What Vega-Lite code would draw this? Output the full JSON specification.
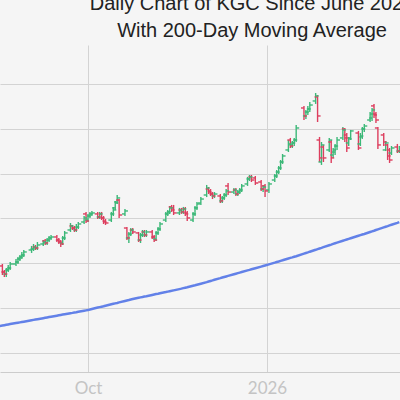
{
"$schema": "https://vega.github.io/schema/vega-lite/v6.json",
"autosize": {"type": "none"},
"width": 400,
"height": 327,
"padding": {"top": 45, "left": 0, "right": 0, "bottom": 28},
"background": "#f5f5f5",
"config": {"view": {"stroke": null}},
"title": {"text": "Daily Chart of KGC Since June 2025", "subtitle": "With 200-Day Moving Average", "anchor": "middle", "frame": "group", "dx": 52, "offset": 4, "font": "Liberation Sans", "subtitleFont": "Liberation Sans", "fontSize": 20, "subtitleFontSize": 20, "fontWeight": "normal", "color": "#222222", "subtitleColor": "#222222", "subtitlePadding": 7},
"data": {"values": [
{"date":"2025-08-15","o":19.47,"h":19.92,"l":19.25,"c":19.70,"ma":12.94},
{"date":"2025-08-18","o":19.70,"h":19.92,"l":18.69,"c":19.03,"ma":13.06},
{"date":"2025-08-19","o":19.03,"h":19.25,"l":18.47,"c":18.80,"ma":13.10},
{"date":"2025-08-20","o":18.80,"h":19.47,"l":18.47,"c":19.25,"ma":13.14},
{"date":"2025-08-21","o":19.25,"h":19.81,"l":19.03,"c":19.47,"ma":13.18},
{"date":"2025-08-22","o":19.47,"h":20.14,"l":19.25,"c":19.92,"ma":13.22},
{"date":"2025-08-25","o":19.92,"h":20.48,"l":19.70,"c":20.14,"ma":13.33},
{"date":"2025-08-26","o":20.14,"h":20.70,"l":19.92,"c":20.48,"ma":13.37},
{"date":"2025-08-27","o":20.48,"h":20.92,"l":20.25,"c":20.70,"ma":13.41},
{"date":"2025-08-28","o":20.70,"h":21.26,"l":20.48,"c":20.92,"ma":13.45},
{"date":"2025-08-29","o":20.92,"h":21.48,"l":20.70,"c":21.26,"ma":13.49},
{"date":"2025-09-02","o":21.48,"h":21.93,"l":21.15,"c":21.59,"ma":13.65},
{"date":"2025-09-03","o":21.59,"h":22.15,"l":21.37,"c":21.81,"ma":13.69},
{"date":"2025-09-04","o":21.81,"h":22.04,"l":21.48,"c":21.70,"ma":13.73},
{"date":"2025-09-05","o":21.70,"h":22.37,"l":21.48,"c":22.04,"ma":13.77},
{"date":"2025-09-08","o":22.15,"h":22.59,"l":21.93,"c":22.37,"ma":13.88},
{"date":"2025-09-09","o":22.48,"h":22.71,"l":22.04,"c":22.26,"ma":13.92},
{"date":"2025-09-10","o":22.26,"h":22.82,"l":22.04,"c":22.59,"ma":13.96},
{"date":"2025-09-11","o":22.59,"h":23.04,"l":22.37,"c":22.82,"ma":14.00},
{"date":"2025-09-12","o":22.82,"h":23.15,"l":22.59,"c":22.93,"ma":14.04},
{"date":"2025-09-15","o":22.93,"h":23.15,"l":22.37,"c":22.59,"ma":14.16},
{"date":"2025-09-16","o":22.59,"h":22.82,"l":22.15,"c":22.37,"ma":14.20},
{"date":"2025-09-17","o":22.37,"h":22.59,"l":21.81,"c":22.15,"ma":14.24},
{"date":"2025-09-18","o":22.26,"h":23.04,"l":22.04,"c":22.82,"ma":14.28},
{"date":"2025-09-19","o":22.82,"h":23.60,"l":22.59,"c":23.38,"ma":14.32},
{"date":"2025-09-22","o":23.71,"h":24.49,"l":23.49,"c":24.16,"ma":14.44},
{"date":"2025-09-23","o":24.16,"h":24.27,"l":23.71,"c":23.93,"ma":14.47},
{"date":"2025-09-24","o":23.93,"h":24.16,"l":23.49,"c":23.71,"ma":14.52},
{"date":"2025-09-25","o":23.71,"h":24.38,"l":23.49,"c":24.04,"ma":14.55},
{"date":"2025-09-26","o":24.04,"h":24.60,"l":23.82,"c":24.38,"ma":14.59},
{"date":"2025-09-29","o":24.60,"h":25.27,"l":24.38,"c":25.05,"ma":14.71},
{"date":"2025-09-30","o":25.50,"h":25.72,"l":24.49,"c":24.71,"ma":14.75},
{"date":"2025-10-01","o":24.82,"h":25.50,"l":24.60,"c":25.27,"ma":14.79},
{"date":"2025-10-02","o":25.27,"h":25.72,"l":25.05,"c":25.50,"ma":14.84},
{"date":"2025-10-03","o":25.50,"h":25.83,"l":25.27,"c":25.61,"ma":14.90},
{"date":"2025-10-06","o":25.50,"h":25.72,"l":24.94,"c":25.16,"ma":15.06},
{"date":"2025-10-07","o":25.16,"h":25.72,"l":24.94,"c":25.50,"ma":15.11},
{"date":"2025-10-08","o":25.50,"h":25.72,"l":24.82,"c":25.05,"ma":15.16},
{"date":"2025-10-09","o":25.05,"h":25.27,"l":24.38,"c":24.60,"ma":15.21},
{"date":"2025-10-10","o":24.71,"h":24.94,"l":24.27,"c":24.49,"ma":15.27},
{"date":"2025-10-13","o":24.82,"h":25.72,"l":24.60,"c":25.50,"ma":15.43},
{"date":"2025-10-14","o":25.50,"h":26.28,"l":25.27,"c":25.94,"ma":15.48},
{"date":"2025-10-15","o":26.17,"h":26.95,"l":25.94,"c":26.72,"ma":15.53},
{"date":"2025-10-16","o":26.83,"h":27.61,"l":26.61,"c":27.28,"ma":15.58},
{"date":"2025-10-17","o":27.05,"h":27.17,"l":25.05,"c":25.38,"ma":15.64},
{"date":"2025-10-20","o":25.50,"h":26.06,"l":25.27,"c":25.83,"ma":15.80},
{"date":"2025-10-21","o":23.93,"h":24.04,"l":22.59,"c":22.82,"ma":15.85},
{"date":"2025-10-22","o":22.82,"h":23.49,"l":22.26,"c":23.26,"ma":15.90},
{"date":"2025-10-23","o":23.26,"h":23.93,"l":23.04,"c":23.71,"ma":15.96},
{"date":"2025-10-24","o":23.71,"h":23.93,"l":23.26,"c":23.49,"ma":16.01},
{"date":"2025-10-27","o":23.38,"h":23.49,"l":22.37,"c":22.59,"ma":16.15},
{"date":"2025-10-28","o":22.59,"h":23.38,"l":22.26,"c":23.15,"ma":16.20},
{"date":"2025-10-29","o":23.15,"h":23.71,"l":22.93,"c":23.49,"ma":16.24},
{"date":"2025-10-30","o":23.49,"h":23.71,"l":22.93,"c":23.15,"ma":16.29},
{"date":"2025-10-31","o":23.15,"h":23.71,"l":22.93,"c":23.49,"ma":16.33},
{"date":"2025-11-03","o":23.49,"h":23.71,"l":22.71,"c":22.93,"ma":16.47},
{"date":"2025-11-04","o":22.93,"h":23.15,"l":22.37,"c":22.59,"ma":16.52},
{"date":"2025-11-05","o":22.71,"h":23.60,"l":22.48,"c":23.38,"ma":16.57},
{"date":"2025-11-06","o":23.38,"h":24.04,"l":23.15,"c":23.82,"ma":16.61},
{"date":"2025-11-07","o":23.82,"h":24.60,"l":23.60,"c":24.38,"ma":16.66},
{"date":"2025-11-10","o":24.82,"h":25.72,"l":24.60,"c":25.50,"ma":16.79},
{"date":"2025-11-11","o":25.50,"h":25.94,"l":25.27,"c":25.72,"ma":16.84},
{"date":"2025-11-12","o":25.72,"h":26.39,"l":25.50,"c":26.17,"ma":16.89},
{"date":"2025-11-13","o":26.28,"h":26.50,"l":25.72,"c":25.94,"ma":16.93},
{"date":"2025-11-14","o":26.17,"h":26.50,"l":25.38,"c":25.61,"ma":16.98},
{"date":"2025-11-17","o":25.61,"h":26.17,"l":25.38,"c":25.94,"ma":17.12},
{"date":"2025-11-18","o":25.94,"h":26.17,"l":25.50,"c":25.72,"ma":17.17},
{"date":"2025-11-19","o":25.72,"h":26.28,"l":25.50,"c":26.06,"ma":17.23},
{"date":"2025-11-20","o":26.06,"h":26.28,"l":25.27,"c":25.50,"ma":17.28},
{"date":"2025-11-21","o":25.61,"h":25.83,"l":24.71,"c":25.05,"ma":17.33},
{"date":"2025-11-24","o":24.82,"h":25.72,"l":24.60,"c":25.50,"ma":17.50},
{"date":"2025-11-25","o":25.50,"h":26.39,"l":25.27,"c":26.17,"ma":17.55},
{"date":"2025-11-26","o":26.17,"h":26.84,"l":25.94,"c":26.61,"ma":17.61},
{"date":"2025-11-28","o":26.72,"h":27.38,"l":26.50,"c":27.16,"ma":17.72},
{"date":"2025-12-01","o":27.61,"h":28.73,"l":27.38,"c":28.39,"ma":17.90},
{"date":"2025-12-02","o":28.28,"h":28.50,"l":27.72,"c":27.94,"ma":17.97},
{"date":"2025-12-03","o":28.06,"h":28.28,"l":27.50,"c":27.72,"ma":18.03},
{"date":"2025-12-04","o":27.72,"h":27.94,"l":27.16,"c":27.50,"ma":18.09},
{"date":"2025-12-05","o":27.50,"h":27.94,"l":27.27,"c":27.72,"ma":18.16},
{"date":"2025-12-08","o":27.50,"h":27.72,"l":26.72,"c":26.95,"ma":18.34},
{"date":"2025-12-09","o":26.95,"h":27.50,"l":26.72,"c":27.28,"ma":18.41},
{"date":"2025-12-10","o":27.28,"h":27.83,"l":27.05,"c":27.61,"ma":18.47},
{"date":"2025-12-11","o":27.61,"h":28.28,"l":27.38,"c":28.06,"ma":18.53},
{"date":"2025-12-12","o":28.62,"h":28.95,"l":27.61,"c":27.94,"ma":18.59},
{"date":"2025-12-15","o":27.94,"h":28.39,"l":27.72,"c":28.17,"ma":18.78},
{"date":"2025-12-16","o":28.17,"h":28.39,"l":27.50,"c":27.72,"ma":18.84},
{"date":"2025-12-17","o":27.72,"h":28.17,"l":27.50,"c":27.94,"ma":18.90},
{"date":"2025-12-18","o":27.94,"h":28.39,"l":27.72,"c":28.17,"ma":18.96},
{"date":"2025-12-19","o":28.17,"h":28.84,"l":27.94,"c":28.62,"ma":19.02},
{"date":"2025-12-22","o":28.84,"h":29.63,"l":28.62,"c":29.40,"ma":19.21},
{"date":"2025-12-23","o":29.40,"h":29.84,"l":29.17,"c":29.63,"ma":19.26},
{"date":"2025-12-24","o":29.63,"h":29.84,"l":29.06,"c":29.28,"ma":19.33},
{"date":"2025-12-26","o":29.51,"h":29.73,"l":28.73,"c":28.95,"ma":19.45},
{"date":"2025-12-29","o":29.06,"h":29.28,"l":28.06,"c":28.28,"ma":19.63},
{"date":"2025-12-30","o":28.28,"h":28.73,"l":27.94,"c":28.50,"ma":19.69},
{"date":"2025-12-31","o":28.62,"h":28.84,"l":27.38,"c":28.06,"ma":19.75},
{"date":"2026-01-02","o":28.17,"h":29.06,"l":27.83,"c":28.84,"ma":19.88},
{"date":"2026-01-05","o":29.28,"h":29.95,"l":29.06,"c":29.73,"ma":20.07},
{"date":"2026-01-06","o":29.73,"h":30.40,"l":29.51,"c":30.17,"ma":20.14},
{"date":"2026-01-07","o":30.17,"h":30.84,"l":29.95,"c":30.62,"ma":20.20},
{"date":"2026-01-08","o":30.62,"h":31.51,"l":30.40,"c":31.29,"ma":20.27},
{"date":"2026-01-09","o":31.29,"h":32.18,"l":31.07,"c":31.96,"ma":20.33},
{"date":"2026-01-12","o":32.63,"h":33.74,"l":32.40,"c":33.30,"ma":20.53},
{"date":"2026-01-13","o":33.74,"h":33.97,"l":32.85,"c":33.07,"ma":20.60},
{"date":"2026-01-14","o":33.19,"h":33.63,"l":32.85,"c":33.41,"ma":20.66},
{"date":"2026-01-15","o":33.41,"h":33.97,"l":33.07,"c":33.74,"ma":20.73},
{"date":"2026-01-16","o":33.74,"h":35.42,"l":33.52,"c":35.08,"ma":20.79},
{"date":"2026-01-20","o":37.31,"h":37.54,"l":35.97,"c":36.42,"ma":21.07},
{"date":"2026-01-21","o":36.42,"h":37.09,"l":36.08,"c":36.86,"ma":21.14},
{"date":"2026-01-22","o":36.86,"h":37.54,"l":36.53,"c":37.20,"ma":21.21},
{"date":"2026-01-23","o":37.20,"h":37.98,"l":36.86,"c":37.64,"ma":21.29},
{"date":"2026-01-26","o":38.09,"h":38.98,"l":37.76,"c":38.65,"ma":21.50},
{"date":"2026-01-27","o":38.54,"h":38.76,"l":35.75,"c":36.42,"ma":21.58},
{"date":"2026-01-28","o":33.74,"h":34.08,"l":31.29,"c":31.74,"ma":21.65},
{"date":"2026-01-29","o":31.29,"h":33.52,"l":30.96,"c":33.19,"ma":21.72},
{"date":"2026-01-30","o":32.96,"h":33.19,"l":31.29,"c":31.74,"ma":21.80},
{"date":"2026-02-02","o":32.63,"h":33.97,"l":32.40,"c":33.74,"ma":22.01},
{"date":"2026-02-03","o":33.52,"h":33.74,"l":31.18,"c":31.74,"ma":22.08},
{"date":"2026-02-04","o":32.07,"h":32.85,"l":31.74,"c":32.63,"ma":22.16},
{"date":"2026-02-05","o":32.40,"h":33.30,"l":32.07,"c":33.07,"ma":22.23},
{"date":"2026-02-06","o":33.07,"h":34.08,"l":32.63,"c":33.74,"ma":22.30},
{"date":"2026-02-09","o":33.97,"h":35.19,"l":33.74,"c":34.86,"ma":22.51},
{"date":"2026-02-10","o":34.97,"h":35.08,"l":33.52,"c":33.97,"ma":22.58},
{"date":"2026-02-11","o":34.30,"h":34.52,"l":32.40,"c":32.85,"ma":22.65},
{"date":"2026-02-12","o":33.41,"h":34.08,"l":33.07,"c":33.86,"ma":22.72},
{"date":"2026-02-13","o":33.97,"h":34.86,"l":33.74,"c":34.75,"ma":22.79},
{"date":"2026-02-17","o":34.52,"h":34.75,"l":32.63,"c":32.85,"ma":23.07},
{"date":"2026-02-18","o":33.30,"h":34.52,"l":33.07,"c":34.19,"ma":23.14},
{"date":"2026-02-19","o":34.08,"h":35.19,"l":33.86,"c":34.97,"ma":23.21},
{"date":"2026-02-20","o":34.97,"h":35.53,"l":34.64,"c":35.30,"ma":23.27},
{"date":"2026-02-23","o":35.97,"h":36.86,"l":35.75,"c":36.64,"ma":23.49},
{"date":"2026-02-24","o":36.19,"h":37.31,"l":35.86,"c":37.09,"ma":23.56},
{"date":"2026-02-25","o":37.54,"h":37.76,"l":36.19,"c":36.53,"ma":23.63},
{"date":"2026-02-26","o":36.64,"h":36.86,"l":35.64,"c":35.97,"ma":23.71},
{"date":"2026-02-27","o":35.08,"h":35.19,"l":32.74,"c":33.19,"ma":23.78},
{"date":"2026-03-02","o":34.30,"h":34.52,"l":33.07,"c":33.52,"ma":24.00},
{"date":"2026-03-03","o":32.63,"h":33.63,"l":32.51,"c":33.41,"ma":24.07},
{"date":"2026-03-04","o":33.19,"h":33.30,"l":31.51,"c":31.96,"ma":24.14},
{"date":"2026-03-05","o":32.63,"h":32.85,"l":31.18,"c":31.51,"ma":24.22},
{"date":"2026-03-06","o":32.29,"h":33.07,"l":32.07,"c":32.85,"ma":24.29},
{"date":"2026-03-09","o":32.96,"h":33.30,"l":32.29,"c":32.51,"ma":24.50},
{"date":"2026-03-10","o":32.51,"h":33.07,"l":32.29,"c":32.85,"ma":24.58}
]},
"encoding": {
  "x": {"field": "date", "type": "temporal", "title": null,
    "scale": {"type": "utc", "domain": [{"year": 2025, "month": 8, "date": 16, "hours": 18, "minutes": 30, "utc": true}, {"year": 2026, "month": 3, "date": 10, "hours": 8, "minutes": 40, "utc": true}]},
    "axis": {"values": [{"year": 2025, "month": 10, "date": 1, "utc": true}, {"year": 2026, "month": 1, "date": 1, "utc": true}],
      "labelExpr": "utcFormat(datum.value, '%m') == '01' ? utcFormat(datum.value, '%Y') : utcFormat(datum.value, '%b')",
      "ticks": false, "grid": true, "gridColor": "#d3d3d3", "gridWidth": 1, "domainColor": "#cccccc", "domainWidth": 1,
      "labelFont": "Lato", "labelFontSize": 17, "labelColor": "#c4c4c4", "labelPadding": 8}}
},
"layer": [
  {"mark": {"type": "rule", "strokeWidth": 1.4, "clip": true},
   "encoding": {
     "y": {"field": "l", "type": "quantitative", "title": null, "scale": {"domain": [7.88, 44.33], "nice": false, "zero": false},
       "axis": {"values": [10, 15, 20, 25, 30, 35, 40], "labels": false, "ticks": false, "domain": false, "grid": true, "gridColor": "#d3d3d3", "gridWidth": 1}},
     "y2": {"field": "h"},
     "color": {"condition": {"test": "datum.c >= datum.o", "value": "#3cb878"}, "value": "#dd3e5e"}}},
  {"mark": {"type": "tick", "orient": "horizontal", "size": 3, "thickness": 1.4, "xOffset": -1.5, "opacity": 1, "clip": true},
   "encoding": {
     "y": {"field": "o", "type": "quantitative", "title": null, "scale": {"domain": [7.88, 44.33], "nice": false, "zero": false},
       "axis": {"values": [10, 15, 20, 25, 30, 35, 40], "labels": false, "ticks": false, "domain": false, "grid": true, "gridColor": "#d3d3d3", "gridWidth": 1}},
     "color": {"condition": {"test": "datum.c >= datum.o", "value": "#3cb878"}, "value": "#dd3e5e"}}},
  {"mark": {"type": "tick", "orient": "horizontal", "size": 3, "thickness": 1.4, "xOffset": 1.5, "opacity": 1, "clip": true},
   "encoding": {
     "y": {"field": "c", "type": "quantitative", "title": null, "scale": {"domain": [7.88, 44.33], "nice": false, "zero": false},
       "axis": {"values": [10, 15, 20, 25, 30, 35, 40], "labels": false, "ticks": false, "domain": false, "grid": true, "gridColor": "#d3d3d3", "gridWidth": 1}},
     "color": {"condition": {"test": "datum.c >= datum.o", "value": "#3cb878"}, "value": "#dd3e5e"}}},
  {"mark": {"type": "line", "color": "#6281e8", "strokeWidth": 2.5, "clip": true},
   "encoding": {
     "y": {"field": "ma", "type": "quantitative", "title": null, "scale": {"domain": [7.88, 44.33], "nice": false, "zero": false},
       "axis": {"values": [10, 15, 20, 25, 30, 35, 40], "labels": false, "ticks": false, "domain": false, "grid": true, "gridColor": "#d3d3d3", "gridWidth": 1}}}}
]
}
